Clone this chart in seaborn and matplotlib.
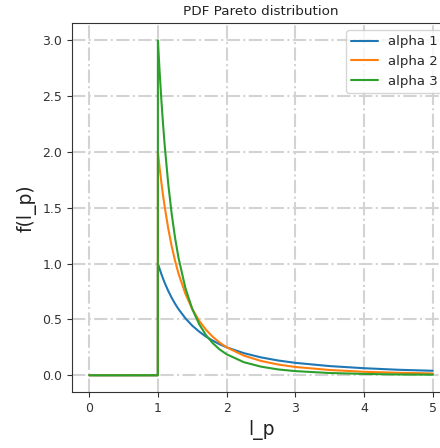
import matplotlib
matplotlib.use("Agg")
import matplotlib.pyplot as plt
import seaborn as sns
import pandas as pd

# Values
x_vals = [0.0, 0.5, 0.999, 1.0, 1.025, 1.05, 1.075, 1.1, 1.15, 1.2, 1.25, 1.3, 1.4, 1.5, 1.6, 1.7,
          1.8, 1.9, 2.0, 2.25, 2.5, 2.75, 3.0, 3.5, 4.0, 4.5, 5.0]
alpha1 = [0.0, 0.0, 0.0, 1.0, 0.952, 0.907, 0.865, 0.826, 0.756, 0.694, 0.640, 0.592, 0.510, 0.444,
          0.391, 0.346, 0.309, 0.277, 0.250, 0.198, 0.160, 0.132, 0.111, 0.082, 0.063, 0.049, 0.040]
alpha2 = [0.0, 0.0, 0.0, 2.0, 1.857, 1.728, 1.610, 1.503, 1.315, 1.157, 1.024, 0.910, 0.729, 0.593,
          0.488, 0.407, 0.343, 0.292, 0.250, 0.176, 0.128, 0.096, 0.074, 0.047, 0.031, 0.022, 0.016]
alpha3 = [0.0, 0.0, 0.0, 3.0, 2.718, 2.468, 2.247, 2.049, 1.715, 1.447, 1.229, 1.050, 0.781, 0.593,
          0.458, 0.359, 0.286, 0.230, 0.188, 0.117, 0.077, 0.052, 0.037, 0.020, 0.012, 0.007, 0.005]
labels = ["alpha 1", "alpha 2", "alpha 3"]

frames = []
for lab, ys in zip(labels, [alpha1, alpha2, alpha3]):
    frames.append(pd.DataFrame({"l_p": x_vals, "f": ys, "series": lab}))
df = pd.concat(frames, ignore_index=True)

sns.set_style("ticks")
plt.rcParams["font.family"] = ["DejaVu Sans"]

fig = plt.figure(figsize=(4.4, 4.48), dpi=100)
ax = fig.add_axes([72 / 440, 56 / 448, 378 / 440, 368.5 / 448])

sns.lineplot(data=df, x="l_p", y="f", hue="series", palette=sns.color_palette("tab10", 3),
             linewidth=1.5, ax=ax, sort=False, estimator=None)

ax.grid(True, linestyle="-.", color="#d3d3d3", linewidth=1.5)
ax.set_axisbelow(True)
ax.set_xticks([0, 1, 2, 3, 4, 5])
ax.set_yticks([0.0, 0.5, 1.0, 1.5, 2.0, 2.5, 3.0])
ax.set_xlim(-0.25, 5.25)
ax.set_ylim(-0.15, 3.15)
ax.tick_params(labelsize=9, length=3.5, width=0.8, colors="#333333")
for sp in ax.spines.values():
    sp.set_color("#333333")
    sp.set_linewidth(0.8)

ax.set_title("PDF Pareto distribution", fontsize=9.7, color="#222222")
ax.set_xlabel("l_p", fontsize=13.5, color="#222222")
ax.set_ylabel("f(l_p)", fontsize=13.5, color="#222222")
leg = ax.legend(loc="upper right", fontsize=9.5, title=None, framealpha=0.8)

fig.savefig("out.png", dpi=100)
